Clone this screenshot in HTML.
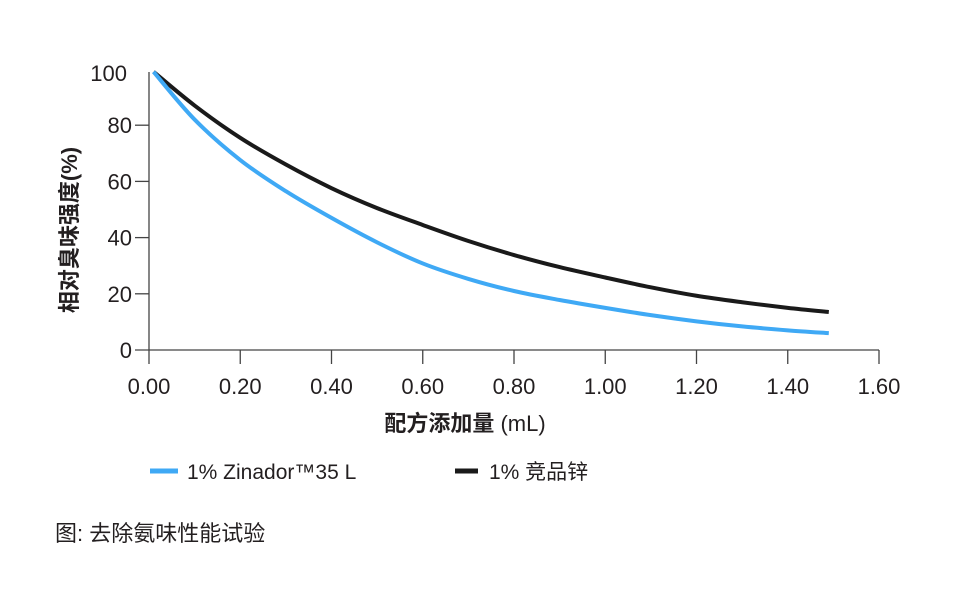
<!DOCTYPE html>
<html><head><meta charset="utf-8"><style>
body{margin:0;background:#fff;}
svg text{font-family:"Liberation Sans","Noto Sans CJK SC",sans-serif;fill:#231f20;}
</style></head><body>
<svg width="961" height="592" viewBox="0 0 961 592" xmlns="http://www.w3.org/2000/svg">
<g id="axes"></g>
<g id="series"></g>
<text transform="translate(77,230) rotate(-90)" text-anchor="middle" font-size="22" font-weight="bold">相对臭味强度(%)</text>
<text x="465" y="431" text-anchor="middle" font-size="22"><tspan font-weight="bold">配方添加量</tspan> (mL)</text>
<g>
<line x1="150" y1="471" x2="178" y2="471" stroke="#3fa9f5" stroke-width="5"/>
<text x="187" y="479" font-size="21">1% Zinador™35 L</text>
<line x1="455" y1="471" x2="478" y2="471" stroke="#1a1a1a" stroke-width="5"/>
<text x="489" y="479" font-size="21">1%  竞品锌</text>
</g>
<text x="55" y="541" font-size="22">图: 去除氨味性能试验</text>
</svg>
<script>
const xValues=[0.01,0.1,0.2,0.3,0.4,0.5,0.6,0.7,0.8,0.9,1.0,1.1,1.2,1.3,1.4,1.49];
const zinadorValues=[99,82,67.6,56.5,47,38.3,30.8,25.3,21,17.8,15,12.4,10.2,8.4,7,6];
const competitorValues=[99,87,75.5,66,57.6,50.5,44.5,38.8,33.8,29.5,25.8,22.3,19.3,17,15,13.5];
const xTicks=[0,0.2,0.4,0.6,0.8,1.0,1.2,1.4,1.6];
const xTickLabels=["0.00","0.20","0.40","0.60","0.80","1.00","1.20","1.40","1.60"];
const yTicks=[0,20,40,60,80,100];
const NS="http://www.w3.org/2000/svg";
function sx(v){return 149+v*456.25;}
function sy(v){return 350-v*2.81;}
function mk(t,a,p){const e=document.createElementNS(NS,t);for(const k in a)e.setAttribute(k,a[k]);p.appendChild(e);return e;}
const ax=document.getElementById('axes');
let l=mk('line',{x1:149,y1:72,x2:149,y2:350,stroke:'#444','stroke-width':1.3},ax);


l=mk('line',{x1:135,y1:350,x2:sx(1.6),y2:350,stroke:'#444','stroke-width':1.3},ax);


xTicks.forEach((v,i)=>{
 const t=mk('line',{x1:sx(v),y1:350,x2:sx(v),y2:364,stroke:'#444','stroke-width':1.3},ax);
 
 
 const tx=mk('text',{x:sx(v),y:394,'text-anchor':'middle','font-size':22},ax);
 tx.textContent=xTickLabels[i];
 
 
});
yTicks.forEach(v=>{
 if(v>0&&v<100){const t=mk('line',{x1:135,y1:sy(v),x2:149,y2:sy(v),stroke:'#444','stroke-width':1.3},ax);
 
 }
 const tx=mk('text',{x:v==100?127:132,y:(v==100?73:sy(v))+8,'text-anchor':'end','font-size':22},ax);
 tx.textContent=String(v);
 
 
});
function pathFor(vals){
 const p=xValues.map((x,i)=>[sx(x),sy(vals[i])]);
 let d='M'+p[0][0]+','+p[0][1];
 for(let i=0;i<p.length-1;i++){
  const p0=p[i-1]||p[i],p1=p[i],p2=p[i+1],p3=p[i+2]||p2;
  const c1=[p1[0]+(p2[0]-p0[0])/6,p1[1]+(p2[1]-p0[1])/6];
  const c2=[p2[0]-(p3[0]-p1[0])/6,p2[1]-(p3[1]-p1[1])/6];
  d+=' C'+c1+' '+c2+' '+p2;
 }
 return d;
}
const sg=document.getElementById('series');
let s=mk('path',{d:pathFor(competitorValues),fill:'none',stroke:'#1a1a1a','stroke-width':4},sg);


s=mk('path',{d:pathFor(zinadorValues),fill:'none',stroke:'#3fa9f5','stroke-width':4},sg);


</script>
</body></html>
